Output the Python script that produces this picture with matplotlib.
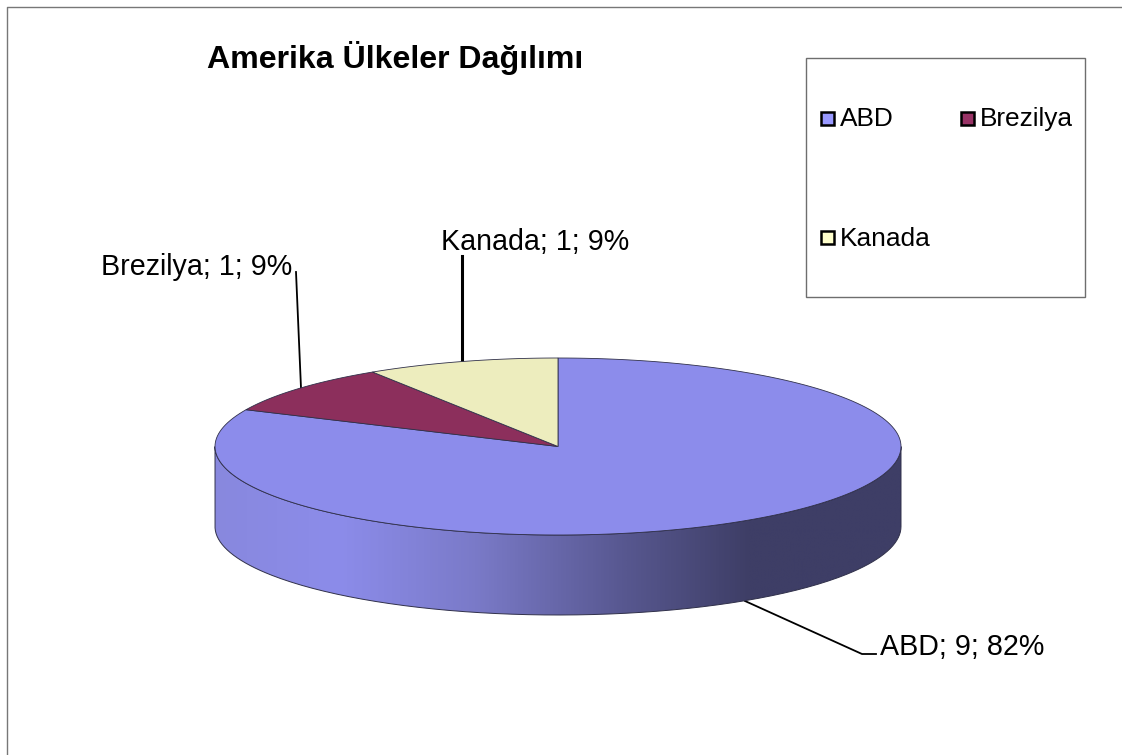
import numpy as np
import matplotlib

matplotlib.use("Agg")
import matplotlib.pyplot as plt
from matplotlib.colors import LinearSegmentedColormap
from matplotlib.patches import PathPatch, Polygon, Rectangle
from matplotlib.path import Path

plt.rcParams["font.family"] = ["Liberation Sans", "DejaVu Sans"]

TITLE = "Amerika Ülkeler Dağılımı"
CATEGORIES = ["ABD", "Brezilya", "Kanada"]
VALUES = [9, 1, 1]
PERCENTS = [82, 9, 9]

TOP_COLORS = ["#8C8CEB", "#8C2F5C", "#EDEDBE"]
LEGEND_COLORS = ["#9999FF", "#993366", "#FFFFCC"]
EDGE = "#30304a"

# geometry of the tilted pie, in pixels
CX, CY, RX, RY, DEPTH = 558, 446.5, 343, 88.5, 80


def ellipse_pts(start, end, dy=0.0):
    # angles in degrees, clockwise from top
    t = np.radians(np.linspace(start, end, 200))
    return np.column_stack([CX + RX * np.sin(t), CY - RY * np.cos(t) + dy])


fig = plt.figure(figsize=(11.22, 7.55), dpi=100)
ax = fig.add_axes([0, 0, 1, 1])
ax.set_xlim(0, 1122)
ax.set_ylim(755, 0)
ax.axis("off")

# outer chart frame
ax.plot([7, 7, 1122], [755, 6.5, 6.5], color="#777777", lw=1.0, zorder=1)

# side of the pie, shaded left to right
front = ellipse_pts(90, 270)
side = np.vstack([front, ellipse_pts(270, 90, DEPTH)])
cmap = LinearSegmentedColormap.from_list(
    "side",
    [(0.0, "#8888DE"), (0.18, "#8C8CEA"), (0.38, "#7A7AC8"),
     (0.6, "#57578F"), (0.78, "#3E3E66"), (1.0, "#3E3E66")],
)
im = ax.imshow(
    np.linspace(0, 1, 512).reshape(1, -1), cmap=cmap, aspect="auto",
    extent=(CX - RX, CX + RX, CY + RY + DEPTH, CY), zorder=2,
)
side_patch = PathPatch(Path(np.vstack([side, side[:1]])), fc="none", ec=EDGE, lw=0.7, zorder=3)
ax.add_patch(side_patch)
im.set_clip_path(side_patch)
ax.set_xlim(0, 1122)
ax.set_ylim(755, 0)

# top face, wedges clockwise from twelve o'clock
start = 0.0
for val, col in zip(VALUES, TOP_COLORS):
    end = start + 360.0 * val / sum(VALUES)
    pts = np.vstack([[CX, CY], ellipse_pts(start, end)])
    ax.add_patch(Polygon(pts, closed=True, fc=col, ec=EDGE, lw=0.6, zorder=4))
    start = end

# leader lines
ax.plot([296, 301], [272, 388], color="black", lw=1.3, zorder=3)
ax.plot([462, 462], [256, 362], color="black", lw=2.2, zorder=3)
ax.plot([745, 862, 876], [601, 654, 654], color="black", lw=1.3, zorder=1.5)

# data labels
label_pos = [(880, 647), (101, 267), (441, 242)]
for name, val, pct, (x, y) in zip(CATEGORIES, VALUES, PERCENTS, label_pos):
    ax.text(x, y, f"{name}; {val}; {pct}%", fontsize=20.6, ha="left", va="center", color="black", zorder=6)

ax.text(207, 58, TITLE, fontsize=23.1, fontweight="bold", ha="left", va="center", color="black", zorder=6)

# legend
ax.add_patch(Rectangle((806.5, 58), 279, 239, fc="white", ec="#6e6e6e", lw=1.0, zorder=5))
legend_pos = [(820, 118), (960, 118), (820, 237.5)]
for name, col, (x, y) in zip(CATEGORIES, LEGEND_COLORS, legend_pos):
    ax.add_patch(Rectangle((x + 1, y - 6.5), 13, 13, fc=col, ec="black", lw=1.8, zorder=6))
    ax.text(x + 20, y + 1, name, fontsize=18.9, ha="left", va="center", color="black", zorder=6)

fig.savefig("out.png", dpi=100)
